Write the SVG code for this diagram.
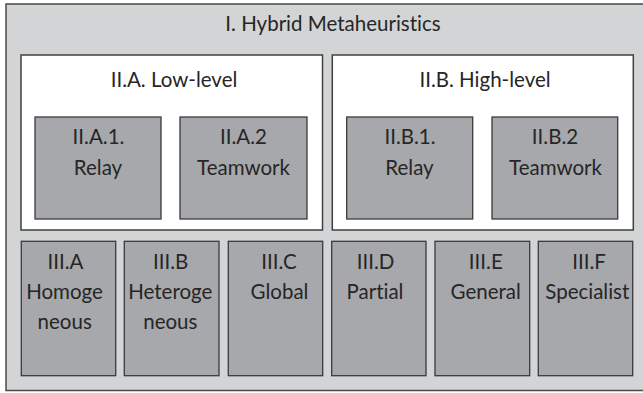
<svg xmlns="http://www.w3.org/2000/svg" width="643" height="393" viewBox="0 0 643 393">
<style>
.outer{fill:#d3d4d6;stroke:#4a4a4a;stroke-width:1.5}
.white{fill:#ffffff;stroke:#404040;stroke-width:1.5}
.dark{fill:#a7a8ab;stroke:#3a3a3a;stroke-width:1.3}
text{font-family:Lato,"Open Sans","Liberation Sans",sans-serif;font-size:20.5px;fill:#262626;text-anchor:middle;font-variant-ligatures:none}
</style>
<rect width="643" height="393" fill="#ffffff"/>
<g id="hybrid-metaheuristics">
<rect class="outer" x="6" y="4" width="650" height="386.5"/>
<text x="333" y="31">I. Hybrid Metaheuristics</text>
</g>
<g id="low-level">
<rect class="white" x="21" y="55" width="301.5" height="175"/>
<text x="174" y="87">II.A. Low-level</text>
</g>
<g id="high-level">
<rect class="white" x="332.3" y="55" width="301" height="175"/>
<text x="485" y="87">II.B. High-level</text>
</g>
<g id="low-relay">
<rect class="dark" x="35" y="117" width="126" height="102"/>
<text x="98.5" y="144">II.A.1.</text>
<text x="98" y="175">Relay</text>
</g>
<g id="low-teamwork">
<rect class="dark" x="180" y="117" width="127" height="102"/>
<text x="243.5" y="144">II.A.2</text>
<text x="243.5" y="175">Teamwork</text>
</g>
<g id="high-relay">
<rect class="dark" x="346.7" y="117" width="126" height="102"/>
<text x="410" y="144">II.B.1.</text>
<text x="409.5" y="175">Relay</text>
</g>
<g id="high-teamwork">
<rect class="dark" x="492" y="117" width="125.7" height="102"/>
<text x="555" y="144">II.B.2</text>
<text x="555.5" y="175">Teamwork</text>
</g>
<g id="homogeneous">
<rect class="dark" x="21.3" y="241.3" width="94.4" height="134.4"/>
<text x="65.5" y="269">III.A</text>
<text x="64.5" y="299">Homoge</text>
<text x="64.7" y="329">neous</text>
</g>
<g id="heterogeneous">
<rect class="dark" x="124.3" y="241.3" width="94.7" height="134.4"/>
<text x="170.7" y="269">III.B</text>
<text x="170.3" y="299">Heteroge</text>
<text x="170.3" y="329">neous</text>
</g>
<g id="global">
<rect class="dark" x="228.3" y="241.3" width="94.4" height="134.4"/>
<text x="279" y="269">III.C</text>
<text x="279.5" y="299">Global</text>
</g>
<g id="partial">
<rect class="dark" x="331.7" y="241.3" width="94.3" height="134.4"/>
<text x="375.5" y="269">III.D</text>
<text x="375" y="299">Partial</text>
</g>
<g id="general">
<rect class="dark" x="435" y="241.3" width="94.7" height="134.4"/>
<text x="485.8" y="269">III.E</text>
<text x="485.7" y="299">General</text>
</g>
<g id="specialist">
<rect class="dark" x="538.3" y="241.3" width="94.4" height="134.4"/>
<text x="589" y="269">III.F</text>
<text x="587.3" y="299">Specialist</text>
</g>
<g id="connectors"></g>
</svg>
